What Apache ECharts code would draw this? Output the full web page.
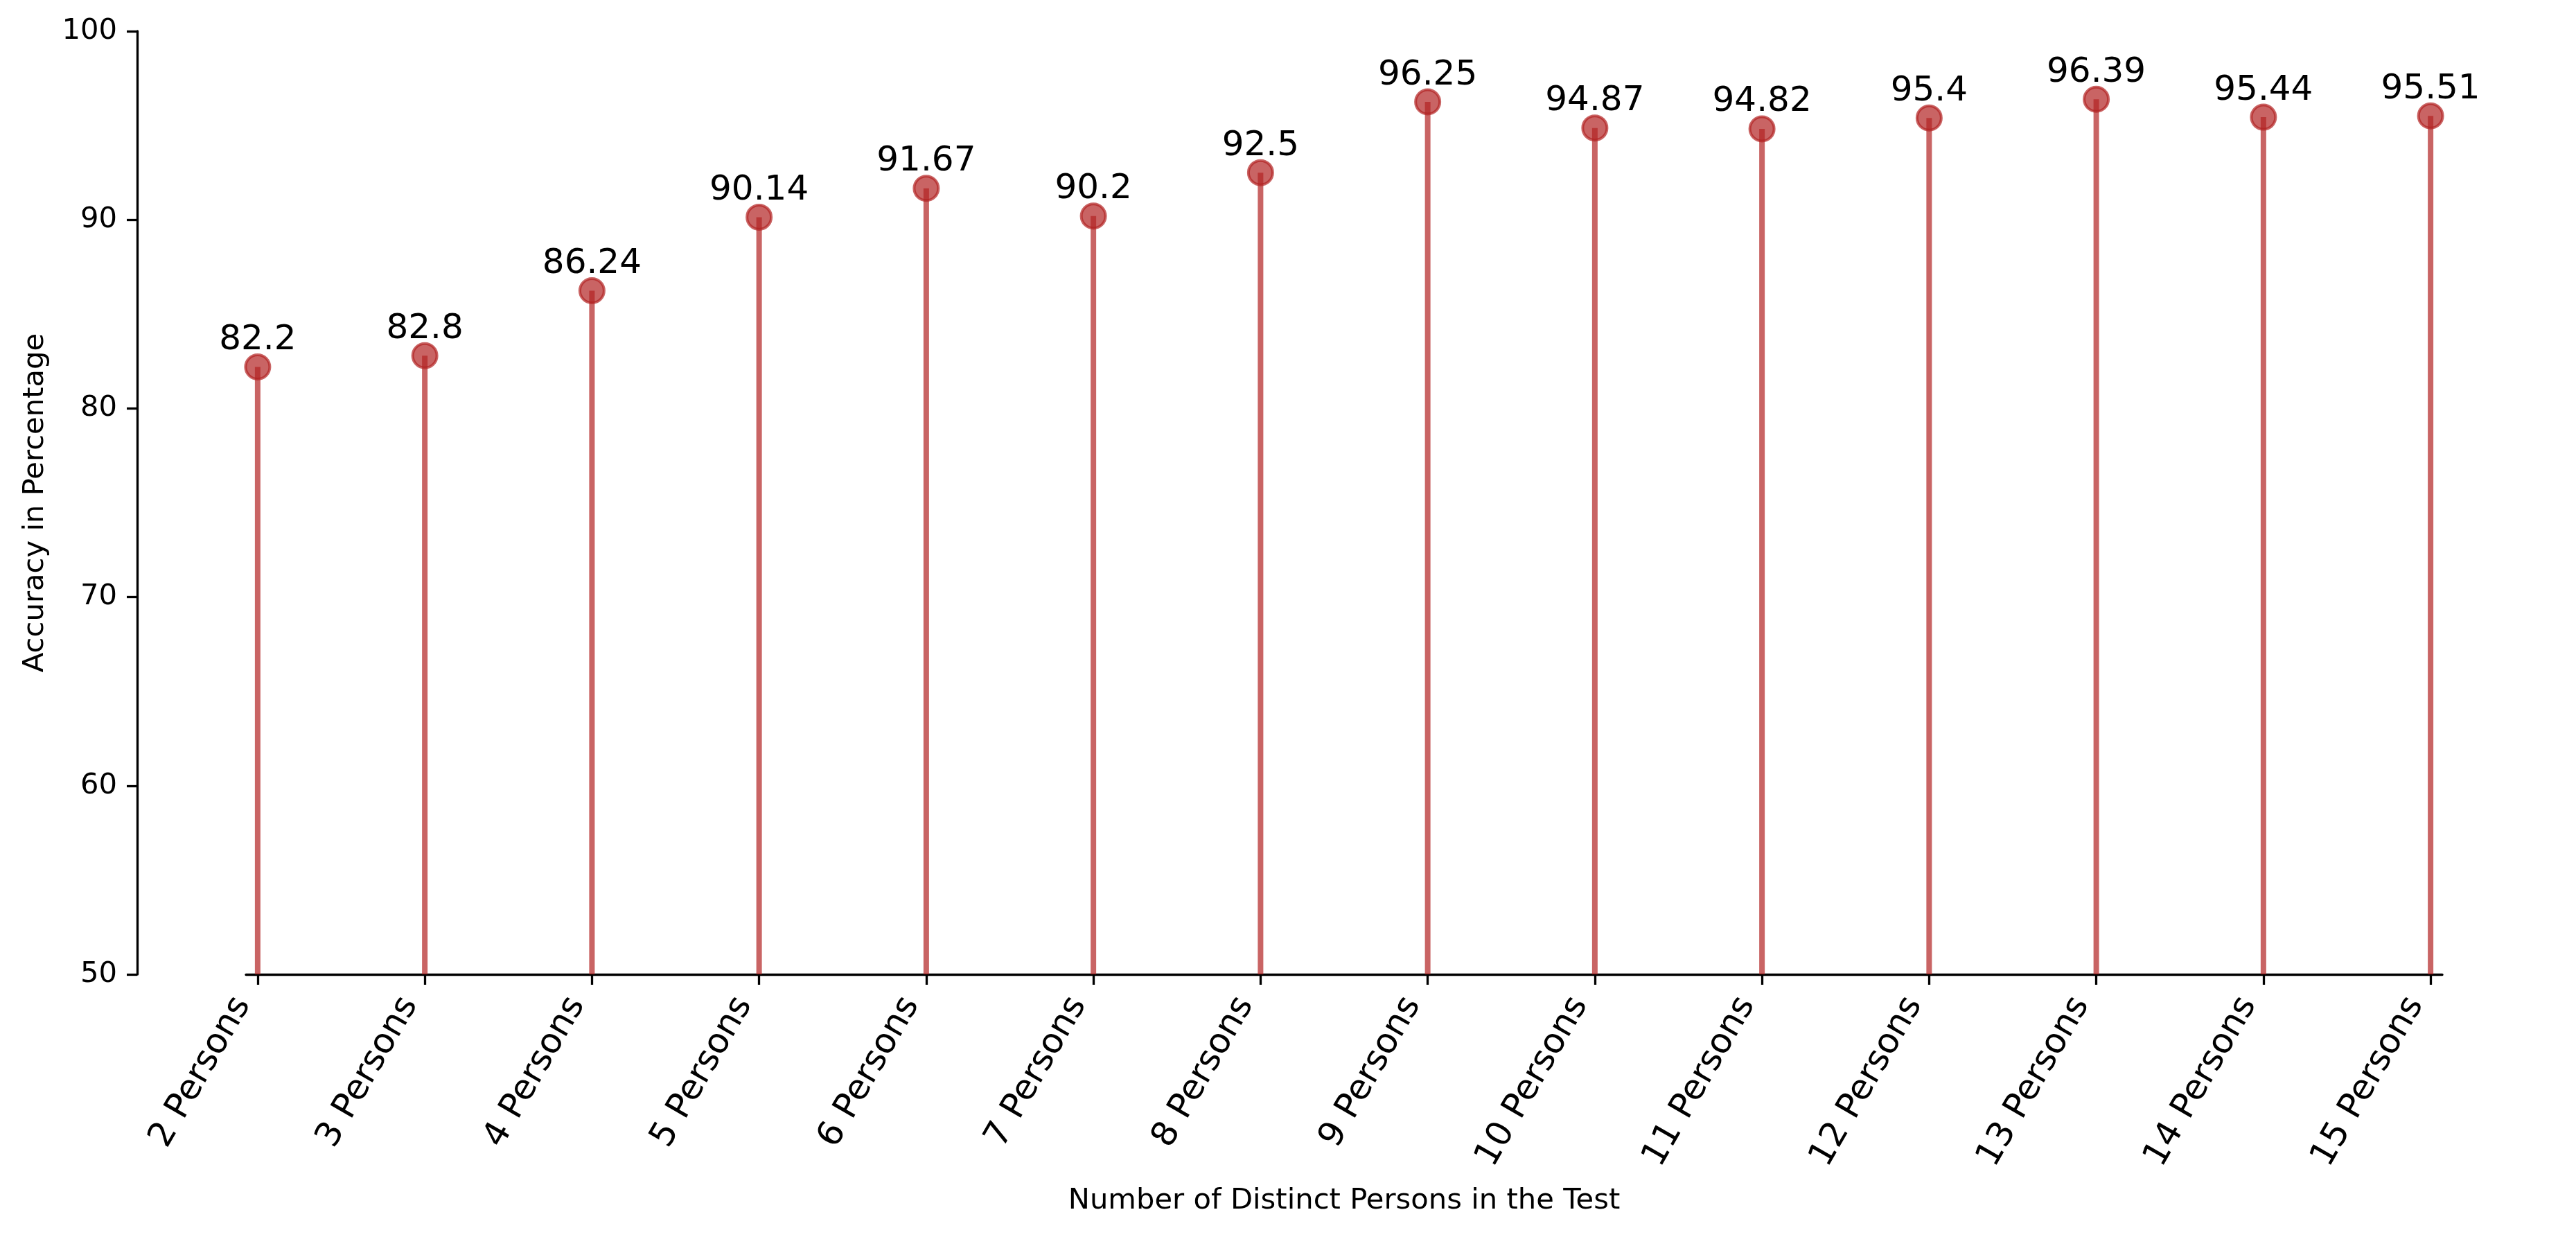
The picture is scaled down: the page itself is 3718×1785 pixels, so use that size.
<!DOCTYPE html>
<html>
<head>
<meta charset="utf-8">
<script src="https://cdn.jsdelivr.net/npm/echarts@6/dist/echarts.min.js"></script>
<style>
  html, body { margin: 0; padding: 0; background: #fff; }
  #chart { width: 3718px; height: 1785px; }
</style>
</head>
<body>
<div id="chart"></div>
<script>
const categories = ['2 Persons', '3 Persons', '4 Persons', '5 Persons', '6 Persons', '7 Persons', '8 Persons',
  '9 Persons', '10 Persons', '11 Persons', '12 Persons', '13 Persons', '14 Persons', '15 Persons']
const accuracy = [82.2, 82.8, 86.24, 90.14, 91.67, 90.2, 92.5, 96.25, 94.87, 94.82, 95.4, 96.39, 95.44, 95.51]
const yTicks = [50, 60, 70, 80, 90, 100]

const yMin = 50
const yMax = 100
const stemColor = 'rgba(178, 34, 34, 0.7)'
const font = 'DejaVu Sans'

const points = accuracy.map((v, i) => [i, v])
const tickIdx = categories.map((c, i) => i)

const chart = echarts.init(document.getElementById('chart'), null, { renderer: 'canvas' })

const option = {
  backgroundColor: '#ffffff',
  animation: false,
  grid: {
    left: 355,
    right: 193,
    top: 45,
    bottom: 379,
  },
  xAxis: {
    type: 'value',
    min: -0.07,
    max: categories.length - 1 + 0.07,
    name: 'Number of Distinct Persons in the Test',
    nameLocation: 'middle',
    nameGap: 306,
    nameTextStyle: { color: '#000', fontSize: 41.7, fontFamily: font },
    axisLine: { show: true, onZero: false, lineStyle: { color: '#000', width: 3.3 } },
    axisTick: { show: true, customValues: tickIdx, length: 15, lineStyle: { color: '#000', width: 3.3 } },
    axisLabel: {
      customValues: tickIdx,
      rotate: 60,
      margin: 49,
      align: 'right',
      verticalAlign: 'bottom',
      color: '#000',
      fontSize: 50,
      fontFamily: font,
      formatter: v => categories[v],
    },
    splitLine: { show: false },
  },
  yAxis: {
    type: 'value',
    min: yMin,
    max: yMax,
    interval: 10,
    offset: 157,
    name: 'Accuracy in Percentage',
    nameLocation: 'middle',
    nameGap: 126,
    nameTextStyle: { color: '#000', fontSize: 41.7, fontFamily: font },
    axisLine: { show: true, onZero: false, lineStyle: { color: '#000', width: 3.3 } },
    axisTick: { show: true, length: 15, lineStyle: { color: '#000', width: 3.3 } },
    axisLabel: {
      margin: 29,
      color: '#000',
      fontSize: 41.7,
      fontFamily: font,
      formatter: v => (yTicks.includes(v) ? String(v) : ''),
    },
    splitLine: { show: false },
  },
  series: [
    {
      // stems from the bottom of the axis up to each value
      type: 'custom',
      data: points,
      clip: true,
      renderItem: (params, api) => {
        const top = api.coord([api.value(0), api.value(1)])
        const base = api.coord([api.value(0), yMin])
        return {
          type: 'line',
          shape: { x1: top[0], y1: base[1], x2: top[0], y2: top[1] },
          style: { stroke: stemColor, lineWidth: 8, lineCap: 'butt' },
        }
      },
      z: 2,
    },
    {
      type: 'scatter',
      data: points,
      symbol: 'circle',
      symbolSize: 35,
      itemStyle: { color: stemColor, borderColor: stemColor, borderWidth: 4, opacity: 1 },
      label: {
        show: true,
        position: 'top',
        distance: -6,
        color: '#000',
        fontSize: 50,
        fontFamily: font,
        formatter: p => String(p.value[1]),
      },
      z: 3,
    },
  ],
}

chart.setOption(option)
</script>
</body>
</html>
